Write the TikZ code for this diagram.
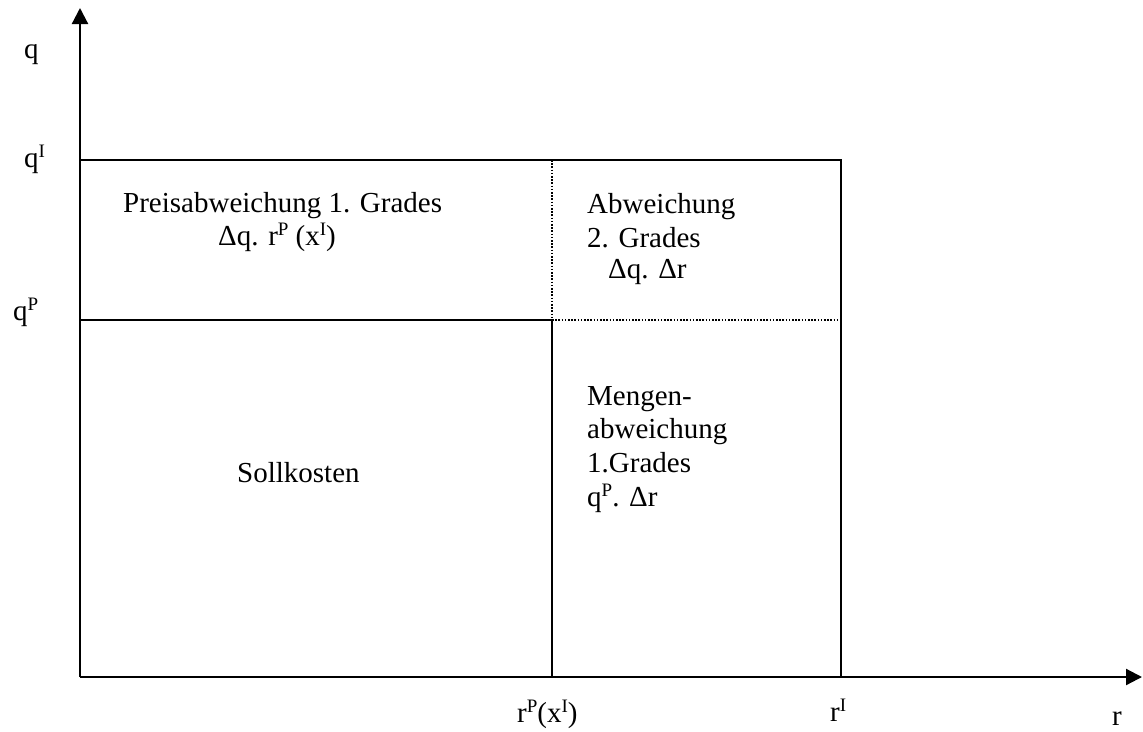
\documentclass[tikz,border=0pt]{standalone}
\usepackage{fontspec}
\setmainfont{Liberation Serif}
\usetikzlibrary{arrows.meta}
\newcommand{\hochs}[1]{\raisebox{10pt}{\fontsize{19}{19}\selectfont #1}}

\begin{document}
\begin{tikzpicture}[x=1pt, y=-1pt,
  axis/.style={line width=2.2pt, -{Triangle[length=16pt,width=16pt]}},
  bound/.style={line width=2.2pt},
  dotline/.style={line width=1.8pt, dash pattern=on 1.6pt off 1.6pt},
  lbl/.style={anchor=base west, inner sep=0pt, font=\fontsize{29}{33}\selectfont},
]
\useasboundingbox (0,0) rectangle (1143,731);

% corner points of the cost rectangles
\coordinate (O)    at (80,677);
\coordinate (ytop) at (80,8);
\coordinate (xend) at (1142,677);
\coordinate (rP)   at (552,677);
\coordinate (rI)   at (841,677);
\coordinate (qI)   at (80,160);
\coordinate (qP)   at (80,320);
\coordinate (mid)  at (552,320);
\coordinate (midt) at (552,160);
\coordinate (rt)   at (841,160);
\coordinate (rm)   at (841,320);

% axes
\draw[axis] (O) -- (ytop);
\draw[axis] (O) -- (xend);

% rectangles
\draw[bound] (qI) -- (rt) -- (rI);
\draw[bound] (qP) -- (mid) -- (rP);
\draw[dotline] (midt) -- (mid) -- (rm);

% axis labels
\node[lbl] (lq)  at (24,58)   {q};
\node[lbl] (lqI) at (24,167)  {q\hochs{I}};
\node[lbl] (lqP) at (13,320)  {q\hochs{P}};
\node[lbl] (lrP) at (517,722) {r\hochs{P}(x\hochs{I})};
\node[lbl] (lrI) at (830,721) {r\hochs{I}};
\node[lbl] (lr)  at (1112,725) {r};

% area labels
\node[lbl] (pa1) at (123,212) {Preisabweichung 1. Grades};
\node[lbl] (pa2) at (218,245) {Δq. r\hochs{P} (x\hochs{I})};
\node[lbl] (ab1) at (587,213) {Abweichung};
\node[lbl] (ab2) at (587,247) {2. Grades};
\node[lbl] (ab3) at (608,278) {Δq. Δr};
\node[lbl] (ma1) at (587,405) {Mengen-};
\node[lbl] (ma2) at (587,438) {abweichung};
\node[lbl] (ma3) at (587,472) {1.Grades};
\node[lbl] (ma4) at (587,506) {q\hochs{P}. Δr};
\node[lbl] (sk)  at (237,482) {Sollkosten};

\end{tikzpicture}
\end{document}
